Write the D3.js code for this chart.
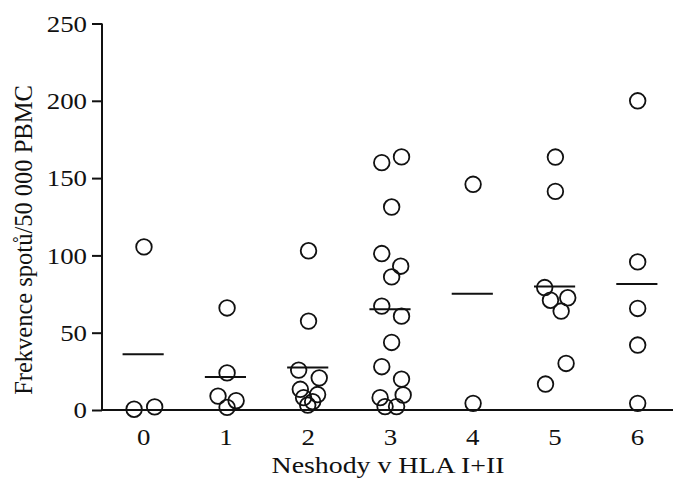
<!DOCTYPE html>
<html>
<head>
<meta charset="utf-8">
<script src="https://cdn.jsdelivr.net/npm/d3@7"></script>
<style>
	body { margin: 0; background: #fff; }
	svg { display: block; }
	text { font-family: "Liberation Serif", "Times New Roman", serif; fill: #111; }
</style>
</head>
<body>
<svg width="673" height="479"></svg>
<script>
// Frekvence spotů podle počtu neshod v HLA I+II (tečkový graf s průměry)

var categories = [0, 1, 2, 3, 4, 5, 6];
var yTicks = [0, 50, 100, 150, 200, 250];

// hodnoty jednotlivých pacientů ve skupinách
var g0 = [105.5, 0.5, 2];
var g1 = [66, 24, 9, 6, 1.7];
var g2 = [103, 57.5, 25.8, 20.8, 13.4, 10, 8, 5.4, 3.2];
var g3 = [160, 163.7, 131.3, 101.2, 93, 86.1, 67.2, 60.7, 43.7, 28, 20, 8, 9.7, 2.2, 2.2];
var g4 = [146, 4.3];
var g5 = [163.6, 141.4, 79.2, 71, 72.6, 64, 30.1, 16.8];
var g6 = [200, 95.8, 65.7, 42, 4.3];

// vodorovné rozptýlení bodů (v jednotkách kategorie)
var j0 = [0.01, -0.11, 0.14];
var j1 = [0.02, 0.02, -0.09, 0.13, 0.02];
var j2 = [0.01, 0.01, -0.11, 0.14, -0.09, 0.12, -0.05, 0.06, 0];
var j3 = [-0.1, 0.14, 0.02, -0.1, 0.13, 0.02, -0.1, 0.14, 0.02, -0.1, 0.14, -0.12, 0.16, -0.06, 0.08];
var j4 = [0.01, 0.01];
var j5 = [0.01, 0.01, -0.12, -0.05, 0.16, 0.08, 0.14, -0.11];
var j6 = [0.01, 0.01, 0.01, 0.01, 0.01];

var groupValues = [g0, g1, g2, g3, g4, g5, g6];
var groupJitter = [j0, j1, j2, j3, j4, j5, j6];

var stretch = 1.12; // písmo v předloze je vodorovně roztažené

function draw(){
	var svg = d3.select("svg");

	var x = d3.scaleLinear().domain([-0.5, 6.5]).range([102, 678]);
	var y = d3.scaleLinear().domain([0, 250]).range([410, 23.5]);

	var points = categories.flatMap((c, i) =>
		groupValues[i].map((v, k) => ({cat: c, value: v, dx: groupJitter[i][k]})));

	var means = categories.map((c, i) => ({cat: c, value: d3.mean(groupValues[i])}));

	// osa y
	var yAxis = svg.append("g")
		.attr("transform", "translate(" + x(-0.5) + ",0)")
		.call(d3.axisLeft(y).tickValues(yTicks).tickSize(10).tickPadding(3));
	yAxis.select(".domain").attr("stroke", "#111").attr("stroke-width", 2)
		.attr("d", "M0," + y(250) + "V" + y(0));
	yAxis.selectAll(".tick line").attr("stroke", "#111").attr("stroke-width", 2);
	yAxis.selectAll(".tick text")
		.attr("x", -15 / stretch)
		.attr("transform", "scale(" + stretch + ",1)")
		.style("font-family", "Liberation Serif")
		.style("font-size", "24px")
		.attr("fill", "#111");

	// osa x (bez značek)
	var xAxis = svg.append("g")
		.attr("transform", "translate(0," + y(0) + ")")
		.call(d3.axisBottom(x).tickValues(categories).tickSize(0).tickPadding(18)
			.tickFormat(d3.format("d")));
	xAxis.select(".domain").attr("stroke", "#111").attr("stroke-width", 2)
		.attr("d", "M" + x(-0.5) + ",0H673");
	xAxis.selectAll(".tick text")
		.attr("transform", "scale(" + stretch + ",1)")
		.style("font-family", "Liberation Serif")
		.style("font-size", "24px")
		.attr("fill", "#111");

	// průměry
	svg.append("g").selectAll("line")
		.data(means)
		.enter().append("line")
		.attr("x1", d => x(d.cat - 0.25))
		.attr("x2", d => x(d.cat + 0.25))
		.attr("y1", d => y(d.value))
		.attr("y2", d => y(d.value))
		.attr("stroke", "#111")
		.attr("stroke-width", 2);

	// body
	svg.append("g").selectAll("circle")
		.data(points)
		.enter().append("circle")
		.attr("cx", d => x(d.cat + d.dx))
		.attr("cy", d => y(d.value))
		.attr("r", 7.8)
		.attr("fill", "none")
		.attr("stroke", "#111")
		.attr("stroke-width", 1.8);

	// popisky os
	svg.append("text")
		.attr("transform", "translate(" + (x(3) - 2) + ",473) scale(" + (stretch + 0.04) + ",1)")
		.attr("text-anchor", "middle")
		.style("font-size", "24px")
		.text("Neshody v HLA I+II");

	svg.append("text")
		.attr("transform", "translate(32,240) rotate(-90)")
		.attr("text-anchor", "middle")
		.style("font-size", "24.5px")
		.text("Frekvence spotů/50 000 PBMC");
}

draw();
</script>
</body>
</html>
